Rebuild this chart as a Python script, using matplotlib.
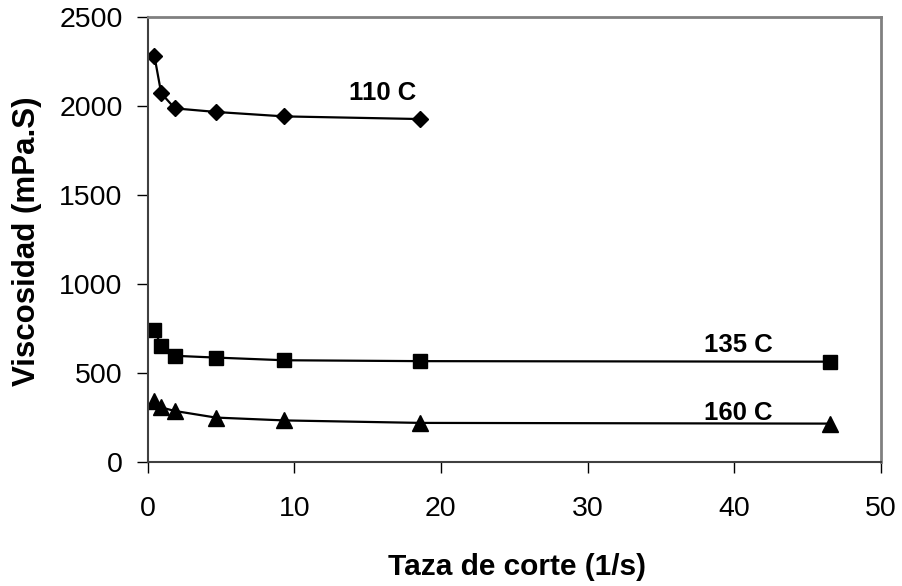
import matplotlib
matplotlib.use("Agg")
from matplotlib import pyplot as plt

plt.rcParams['font.family'] = ['Liberation Sans', 'DejaVu Sans']

# Shear rate (1/s) for each reading
shear_110 = [0.465, 0.93, 1.86, 4.65, 9.3, 18.6]
shear = [0.465, 0.93, 1.86, 4.65, 9.3, 18.6, 46.5]

# Viscosity (mPa.S) at each temperature
visc_110 = [2280, 2070, 1985, 1965, 1940, 1925]
visc_135 = [740, 650, 595, 585, 570, 565, 562]
visc_160 = [340, 305, 285, 248, 232, 218, 214]

fig = plt.figure(figsize=(9.02, 5.86), dpi=100)
ax = fig.add_axes([0.1636, 0.2121, 0.8131, 0.7594])

ax.plot(shear_110, visc_110, color='black', lw=1.6, marker='D', ms=8.5)
ax.plot(shear, visc_135, color='black', lw=1.6, marker='s', ms=10.5)
ax.plot(shear, visc_160, color='black', lw=1.6, marker='^', ms=12)

# Series labels next to the curves
ax.text(16.0, 2070, '110 C', fontsize=18.5, fontweight='bold', ha='center', va='center')
ax.text(40.3, 655, '135 C', fontsize=18.5, fontweight='bold', ha='center', va='center')
ax.text(40.3, 275, '160 C', fontsize=18.5, fontweight='bold', ha='center', va='center')

ax.set_xlim(0, 50)
ax.set_ylim(0, 2500)
ax.set_xticks(range(0, 51, 10))
ax.set_yticks(range(0, 2501, 500))
ax.tick_params(direction='out', length=8, width=1, labelsize=20.5, pad=10)
ax.tick_params(axis='x', pad=17)

for side in ['top', 'right']:
    ax.spines[side].set_color('#808080')
    ax.spines[side].set_linewidth(2)
for side in ['left', 'bottom']:
    ax.spines[side].set_color('#404040')
    ax.spines[side].set_linewidth(1.5)

ax.set_xlabel('Taza de corte (1/s)', fontsize=21.5, fontweight='bold', va='center')
ax.set_ylabel('Viscosidad (mPa.S)', fontsize=22.5, fontweight='bold', va='center')
ax.xaxis.set_label_coords(0.504, -0.237)
ax.yaxis.set_label_coords(-0.164, 0.496)

fig.savefig('out.png', dpi=100)
